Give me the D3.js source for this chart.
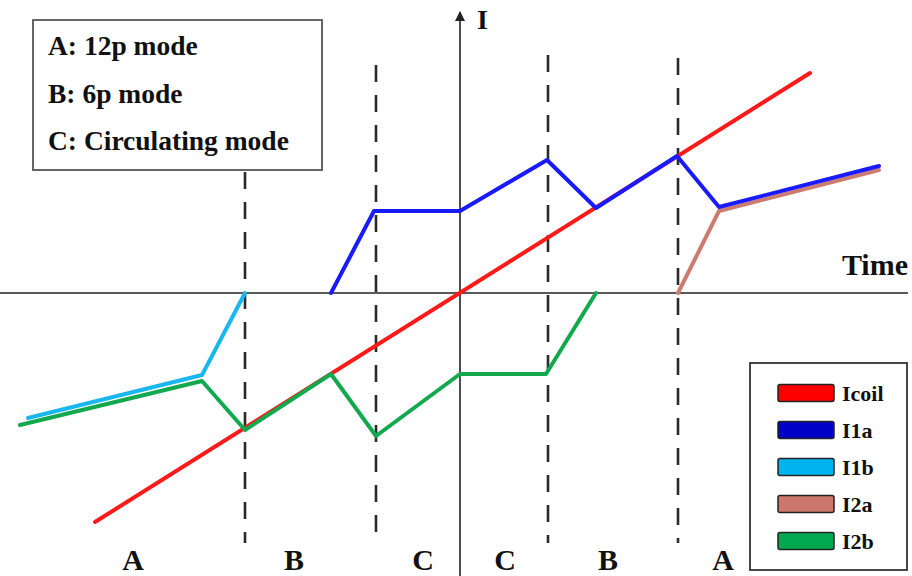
<!DOCTYPE html>
<html>
<head>
<meta charset="utf-8">
<script src="https://cdn.jsdelivr.net/npm/d3@7"></script>
<style>
  html, body { margin: 0; padding: 0; background: #fff; }
  svg { display: block; }
  text { font-family: "Liberation Serif", "DejaVu Serif", serif; font-weight: bold; fill: #111; }
</style>
</head>
<body>
<svg id="chart" width="912" height="576"></svg>
<script>
// Currents against time around a mode transition (time and current in arbitrary units)
const coilT = [-36.5, 35.0];
const coilI = [-22.9, 22.0];

const i1aT = [-12.9, -8.6, 0, 8.7, 13.6, 21.7, 25.9, 41.9];
const i1aI = [0, 8.2, 8.2, 13.3, 8.5, 13.7, 8.6, 12.7];

const i1bT = [-43.2, -25.8, -21.5];
const i1bI = [-12.5, -8.2, 0];

const i2aT = [21.8, 25.9, 41.9];
const i2aI = [0, 8.2, 12.3];

const i2bT = [-44.0, -25.8, -21.5, -12.9, -8.4, 0, 8.6, 13.6];
const i2bI = [-13.2, -8.8, -13.7, -8.1, -14.3, -8.1, -8.1, 0];

// Mode boundaries (time) with the current extent of each dashed marker
const boundaryT = [-21.5, -8.4, 8.8, 21.8];
const boundaryTop = [12.1, 22.8, 23.8, 23.5];
const boundaryBottom = [-25.0, -25.0, -25.0, -25.0];

// Mode letters along the bottom
const regionLabels = ["A", "B", "C", "C", "B", "A"];
const regionT = [-32.7, -16.6, -3.7, 4.5, 14.8, 26.3];

const modeNotes = ["A: 12p mode", "B: 6p mode", "C: Circulating mode"];

const seriesNames = ["Icoil", "I1a", "I1b", "I2a", "I2b"];
const lineColors = ["#ff1a1a", "#1a1aff", "#1ab6ee", "#cc7b70", "#12a84e"];
const swatchColors = ["#ff0000", "#0000c8", "#00b4ef", "#cd766c", "#00a94f"];

const svg = d3.select("#chart");
const W = 912, H = 576;

const x = d3.scaleLinear().domain([-46, 45.2]).range([0, W]);
const y = d3.scaleLinear().domain([29.3, -28.3]).range([0, H]);

// Axes through the origin
svg.append("defs").append("marker")
  .attr("id", "arrow").attr("viewBox", "0 0 10 10")
  .attr("refX", 9).attr("refY", 5).attr("markerWidth", 10).attr("markerHeight", 10)
  .attr("markerUnits", "userSpaceOnUse").attr("orient", "auto")
  .append("path").attr("d", "M0,0 L10,5 L0,10 Z").attr("fill", "#222");

svg.append("line")
  .attr("x1", x(-46)).attr("x2", x(44.8))
  .attr("y1", y(0)).attr("y2", y(0))
  .attr("stroke", "#222").attr("stroke-width", 1.6);

svg.append("line")
  .attr("x1", x(0)).attr("x2", x(0))
  .attr("y1", y(-28.3)).attr("y2", y(28.1))
  .attr("stroke", "#222").attr("stroke-width", 1.6)
  .attr("marker-end", "url(#arrow)");

svg.append("text").attr("x", x(1.7)).attr("y", y(26.4))
  .attr("font-size", 28).text("I");
svg.append("text").attr("x", x(44.8)).attr("y", y(1.8))
  .attr("text-anchor", "end").attr("font-size", 30).text("Time");

// Dashed mode boundaries
svg.append("g").selectAll("line").data(boundaryT).join("line")
  .attr("x1", d => x(d)).attr("x2", d => x(d))
  .attr("y1", (d, i) => y(boundaryTop[i])).attr("y2", (d, i) => y(boundaryBottom[i]))
  .attr("stroke", "#2a2a2a").attr("stroke-width", 2.6)
  .attr("stroke-dasharray", "17,13");

// Current traces
const line = d3.line().x(d => x(d[0])).y(d => y(d[1]));
const traces = [
  { t: coilT, v: coilI, c: lineColors[0] },
  { t: i2aT, v: i2aI, c: lineColors[3] },
  { t: i1bT, v: i1bI, c: lineColors[2] },
  { t: i2bT, v: i2bI, c: lineColors[4] },
  { t: i1aT, v: i1aI, c: lineColors[1] }
];
svg.append("g").selectAll("path").data(traces).join("path")
  .attr("d", d => line(d.t.map((t, i) => [t, d.v[i]])))
  .attr("fill", "none").attr("stroke", d => d.c)
  .attr("stroke-width", 4).attr("stroke-linejoin", "round").attr("stroke-linecap", "round");

// Mode letters
svg.append("g").selectAll("text").data(regionLabels).join("text")
  .attr("x", (d, i) => x(regionT[i])).attr("y", 570)
  .attr("text-anchor", "middle").attr("font-size", 30).text(d => d);

// Mode description box
const note = svg.append("g");
note.append("rect").attr("x", 33).attr("y", 20).attr("width", 289).attr("height", 150)
  .attr("fill", "#fff").attr("stroke", "#555").attr("stroke-width", 1.8);
note.selectAll("text").data(modeNotes).join("text")
  .attr("x", 48).attr("y", (d, i) => 55 + i * 47.5)
  .attr("font-size", 27.5).text(d => d);

// Legend
const legend = svg.append("g");
legend.append("rect").attr("x", 750).attr("y", 363).attr("width", 157).attr("height", 207)
  .attr("fill", "#fff").attr("stroke", "#333").attr("stroke-width", 1.8);
const rows = legend.selectAll("g.row").data(seriesNames).join("g")
  .attr("class", "row")
  .attr("transform", (d, i) => `translate(0, ${393 + i * 37})`);
rows.append("rect").attr("x", 778).attr("y", -8.5).attr("width", 56).attr("height", 17)
  .attr("rx", 2).attr("fill", (d, i) => swatchColors[i])
  .attr("stroke", "#222").attr("stroke-width", 1.5);
rows.append("text").attr("x", 842).attr("y", 8)
  .attr("font-size", 22).text(d => d);
</script>
</body>
</html>
